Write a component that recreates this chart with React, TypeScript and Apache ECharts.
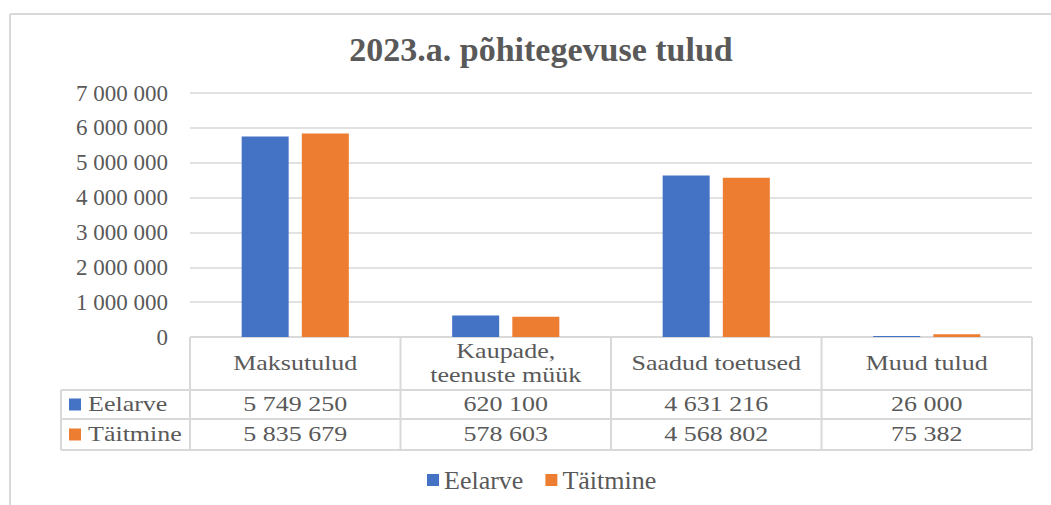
import React, { useEffect, useRef } from "react";
import * as echarts from "echarts";

const categories = ["Maksutulud", "Kaupade,\nteenuste müük", "Saadud toetused", "Muud tulud"];
const seriesNames = ["Eelarve", "Täitmine"];
const eelarve = [5749250, 620100, 4631216, 26000];
const taitmine = [5835679, 578603, 4568802, 75382];
const yTicks = { min: 0, max: 7000000, interval: 1000000 };
const titleText = "2023.a. põhitegevuse tulud";

const COLORS = ["#4472C4", "#ED7D31"];
const GRAY = "#595959";
const LINE = "#d9d9d9";
const FONT = "'Liberation Serif', 'Times New Roman', serif";
const SX = 1.3;

const fmt = (n: number) => String(n).replace(/\B(?=(\d{3})+(?!\d))/g, " ");

export default function App() {
  const ref = useRef<HTMLDivElement>(null);
  useEffect(() => {
    if (!ref.current) return;
    const chart = echarts.init(ref.current, null, { renderer: "svg" });
    const option: any = {
      animation: false,
      backgroundColor: "#ffffff",
      title: {
        text: titleText,
        left: 536,
        textAlign: "center",
        top: 27,
        textStyle: { fontFamily: FONT, fontSize: 34, fontWeight: "bold", color: GRAY },
      },
      grid: { left: 190, right: 19, top: 93, bottom: 168 },
      legend: {
        data: seriesNames,
        bottom: 7,
        left: 422,
        icon: "rect",
        itemWidth: 12,
        itemHeight: 12,
        itemGap: 22,
        textStyle: { fontFamily: FONT, fontSize: 26, color: GRAY },
      },
      xAxis: {
        type: "category",
        data: categories,
        axisLine: { show: false },
        axisTick: { show: false },
        axisLabel: { show: false },
      },
      yAxis: {
        type: "value",
        min: yTicks.min,
        max: yTicks.max,
        interval: yTicks.interval,
        axisLine: { show: false },
        axisTick: { show: false },
        axisLabel: {
          margin: 22,
          fontFamily: FONT,
          fontSize: 23,
          color: GRAY,
          formatter: (v: number) => fmt(v),
        },
        splitLine: { lineStyle: { color: LINE, width: 1.5 } },
      },
      series: [
        { name: seriesNames[0], type: "bar", data: eelarve, barWidth: 47, barGap: "28%", itemStyle: { color: COLORS[0] } },
        { name: seriesNames[1], type: "bar", data: taitmine, barWidth: 47, itemStyle: { color: COLORS[1] } },
      ],
    };
    chart.setOption(option);

    const baseY = chart.convertToPixel({ yAxisIndex: 0 }, 0) as number;
    const xs = categories.map((_, i) => chart.convertToPixel({ xAxisIndex: 0 }, i) as number);
    const half = (xs[1] - xs[0]) / 2;
    const edges = [xs[0] - half, ...xs.map((x) => x + half)];
    const rightX = edges[edges.length - 1];
    const leftCol = 61;
    const hdrBot = baseY + 53;
    const r1Bot = hdrBot + 29;
    const r2Bot = r1Bot + 31;
    const rows = [eelarve, taitmine];
    const rowMid = [(hdrBot + r1Bot) / 2, (r1Bot + r2Bot) / 2];

    const lineEl = (x1: number, y1: number, x2: number, y2: number) => ({
      type: "line",
      shape: { x1, y1, x2, y2 },
      style: { stroke: LINE, lineWidth: 2 },
      silent: true,
    });
    const textEl = (x: number, y: number, text: string, align = "center") => ({
      type: "text",
      x,
      y,
      scaleX: SX,
      style: {
        text,
        align,
        verticalAlign: "middle",
        fontFamily: FONT,
        fontSize: 20,
        fill: GRAY,
        lineHeight: 24,
      },
      silent: true,
    });

    const els: any[] = [];
    els.push(lineEl(10, 14, 1051, 14));
    els.push(lineEl(10, 14, 10, 505));
    els.push(lineEl(edges[0], baseY, rightX, baseY));
    [hdrBot, r1Bot, r2Bot].forEach((y) => els.push(lineEl(leftCol, y, rightX, y)));
    els.push(lineEl(leftCol, hdrBot, leftCol, r2Bot));
    edges.forEach((x) => els.push(lineEl(x, baseY, x, r2Bot)));
    categories.forEach((c, i) => els.push(textEl(xs[i], (baseY + hdrBot) / 2, c)));
    rows.forEach((vals, r) => {
      els.push({
        type: "rect",
        shape: { x: 69, y: rowMid[r] - 6, width: 12, height: 12 },
        style: { fill: COLORS[r] },
        silent: true,
      });
      els.push(textEl(88, rowMid[r], seriesNames[r], "left"));
      vals.forEach((v, i) => els.push(textEl(xs[i], rowMid[r], fmt(v))));
    });
    chart.setOption({ graphic: { elements: els } });

    return () => chart.dispose();
  }, []);
  return (
    <div
      ref={ref}
      style={{ position: "absolute", left: 0, top: 0, width: 1051, height: 505 }}
    />
  );
}
